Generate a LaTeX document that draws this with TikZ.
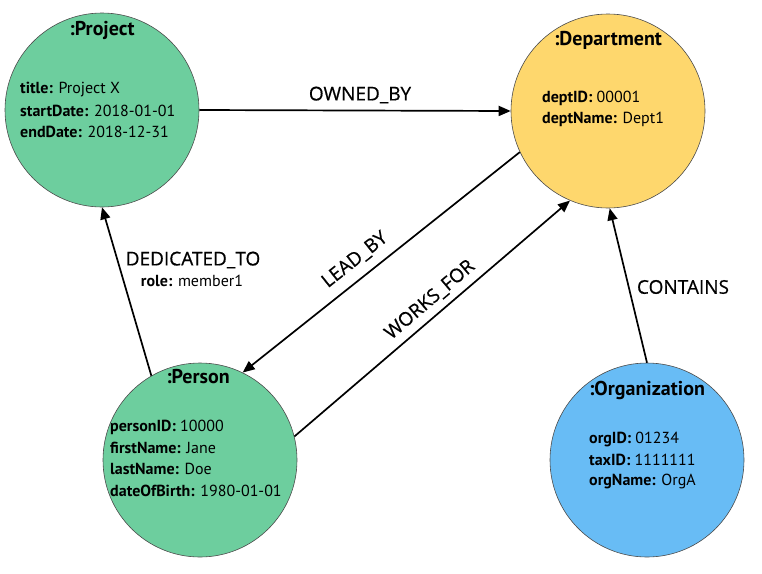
\documentclass[tikz,border=0pt]{standalone}
\usepackage{fontspec}
\setmainfont{PT Sans}
\newfontfamily\labfont[FakeBold=0.6]{Open Sans}
\usetikzlibrary{arrows.meta}
\definecolor{nodegreen}{HTML}{6DCE9E}
\definecolor{nodeyellow}{HTML}{FED76D}
\definecolor{nodeblue}{HTML}{68BCF5}
\tikzset{
  entity/.style={circle, draw=black!70, line width=0.6pt, minimum size=194pt, inner sep=0pt},
  ntitle/.style={font=\fontsize{20}{24}\selectfont\bfseries, inner sep=0pt},
  attr/.style={font=\fontsize{16}{20}\selectfont, inner sep=0pt, anchor=west},
  edge/.style={line width=1.7pt, -{Triangle[length=12pt,width=10pt]}},
  elabel/.style={font=\fontsize{19}{22}\selectfont\labfont, inner sep=0pt},
  rlabel/.style={font=\fontsize{16}{20}\selectfont, inner sep=0pt}
}
\begin{document}
\begin{tikzpicture}[x=1pt,y=-1pt]
\useasboundingbox (0,0) rectangle (762,573);
% entities
\node[entity, fill=nodegreen] (proj) at (102,110) {};
\node[entity, fill=nodeyellow] (dept) at (608,111) {};
\node[entity, fill=nodegreen] (person) at (200,460) {};
\node[entity, fill=nodeblue] (org) at (647,460) {};
% titles
\node[ntitle] (tproj) at (102,30) {:Project};
\node[ntitle] (tdept) at (608,40) {:Department};
\node[ntitle] (tperson) at (198,377) {:Person};
\node[ntitle] (torg) at (647,390) {:Organization};
% attributes
\node[attr] (p1) at (20,90) {\textbf{title:} Project X};
\node[attr] (p2) at (20,111) {\textbf{startDate:} 2018-01-01};
\node[attr] (p3) at (20,132) {\textbf{endDate:} 2018-12-31};
\node[attr] (d1) at (542,98) {\textbf{deptID:} 00001};
\node[attr] (d2) at (542,119) {\textbf{deptName:} Dept1};
\node[attr] (e1) at (110,427) {\textbf{personID:} 10000};
\node[attr] (e2) at (110,448) {\textbf{firstName:} Jane};
\node[attr] (e3) at (110,469) {\textbf{lastName:} Doe};
\node[attr] (e4) at (110,491) {\textbf{dateOfBirth:} 1980-01-01};
\node[attr] (o1) at (589,439) {\textbf{orgID:} 01234};
\node[attr] (o2) at (589,460) {\textbf{taxID:} 1111111};
\node[attr] (o3) at (589,481) {\textbf{orgName:} OrgA};
% edges
\draw[edge] (proj.east) -- (dept.west);
\draw[edge] (person.120) -- (proj.south);
\draw[edge] (dept.205) -- (person.64);
\draw[edge] (person.14) -- (dept.247);
\draw[edge] (org.north) -- (dept.271);
% edge labels
\node[elabel] (lown) at (360,95) {OWNED\_BY};
\node[elabel] (lded) at (193,260) {DEDICATED\_TO};
\node[rlabel] (lrole) at (192,281) {\textbf{role:} member1};
\node[elabel] (lcont) at (683,287) {CONTAINS};
\node[elabel, rotate=38.5] (llead) at (355,260) {LEAD\_BY};
\node[elabel, rotate=40.5] (lworks) at (430,300) {WORKS\_FOR};
\end{tikzpicture}
\end{document}
